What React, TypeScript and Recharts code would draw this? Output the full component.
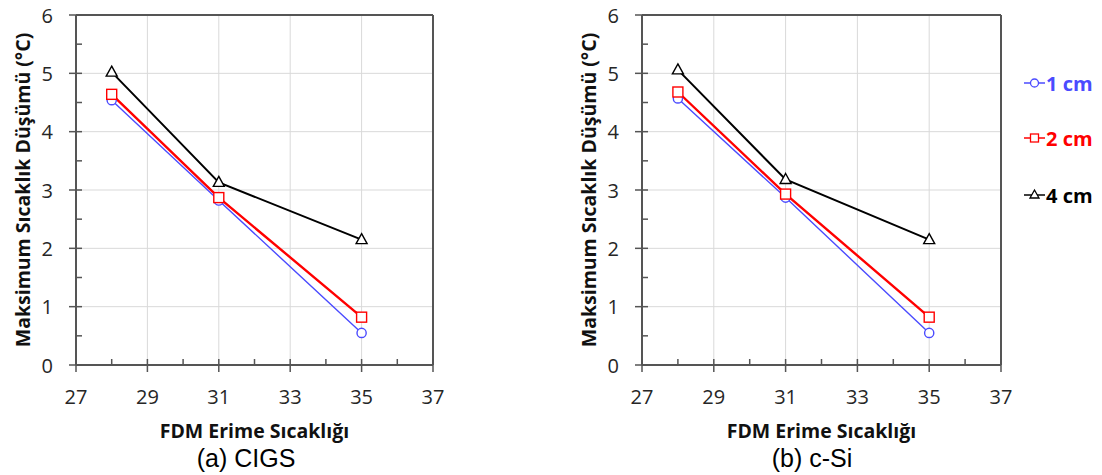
import React from "react";
import { LineChart, Line, XAxis, YAxis, CartesianGrid, ReferenceLine, Label } from "recharts";

// FDM melting temperature (x) and maximum temperature drop (°C) per thickness
const meltTemps = [28, 31, 35];
const cigs1cm = [4.54, 2.82, 0.55];
const cigs2cm = [4.64, 2.87, 0.82];
const cigs4cm = [5.02, 3.13, 2.15];
const csi1cm = [4.57, 2.87, 0.55];
const csi2cm = [4.68, 2.93, 0.82];
const csi4cm = [5.06, 3.18, 2.15];

const xTicks = [27, 28, 29, 30, 31, 32, 33, 34, 35, 36, 37];
const yTicks = [0, 0.5, 1, 1.5, 2, 2.5, 3, 3.5, 4, 4.5, 5, 5.5, 6];
const xGrid = [29, 31, 33, 35];
const yGrid = [1, 2, 3, 4, 5];

const seriesNames = ["1 cm", "2 cm", "4 cm"];
const seriesColors = ["#4b4bff", "#ff0000", "#000000"];

const yTitle = "Maksimum Sıcaklık Düşümü (°C)";
const xTitle = "FDM Erime Sıcaklığı";

const FONT = "'Open Sans', Lato, sans-serif";
const AXIS_COLOR = "#555555";
const TICK_SIZE = 7;
const TICK_MARGIN = 16;
const INNER_TICK = 6;

function buildRows(a: number[], b: number[], c: number[]) {
  return meltTemps.map((x, i) => ({ x, s1: a[i], s2: b[i], s4: c[i] }));
}

const CircleDot = (p: any) => (
  <circle key={`c-${p.index}`} cx={p.cx} cy={p.cy} r={4.6} fill="#fff" stroke={seriesColors[0]} strokeWidth={1.4} />
);
const SquareDot = (p: any) => (
  <rect key={`s-${p.index}`} x={p.cx - 5} y={p.cy - 5} width={10} height={10} fill="#fff" stroke={seriesColors[1]} strokeWidth={1.4} />
);
const TriangleDot = (p: any) => (
  <path
    key={`t-${p.index}`}
    d={`M${p.cx},${p.cy - 6} L${p.cx + 5.5},${p.cy + 4} L${p.cx - 5.5},${p.cy + 4} Z`}
    fill="#fff"
    stroke={seriesColors[2]}
    strokeWidth={1.4}
  />
);

const YTick = (p: any) => {
  const v = p.payload.value as number;
  const axisX = p.x + TICK_SIZE + TICK_MARGIN;
  const y = p.y;
  const major = Number.isInteger(v);
  return (
    <g>
      {major ? (
        <>
          <line x1={axisX - TICK_SIZE} x2={axisX + INNER_TICK} y1={y} y2={y} stroke={AXIS_COLOR} strokeWidth={1.5} />
          <text x={p.x} y={y} textAnchor="end" dominantBaseline="central" fontFamily={FONT} fontSize={20} fill="#262626">
            {v}
          </text>
        </>
      ) : (
        <line x1={axisX} x2={axisX + INNER_TICK} y1={y} y2={y} stroke={AXIS_COLOR} strokeWidth={1.5} />
      )}
    </g>
  );
};

const XTick = (p: any) => {
  const v = p.payload.value as number;
  const axisY = p.y - TICK_SIZE - 14;
  const x = p.x;
  const major = v % 2 === 1;
  return (
    <g>
      {major ? (
        <>
          <line x1={x} x2={x} y1={axisY - INNER_TICK} y2={axisY + TICK_SIZE} stroke={AXIS_COLOR} strokeWidth={1.5} />
          <text x={x} y={axisY + 31} textAnchor="middle" dominantBaseline="central" fontFamily={FONT} fontSize={20} fill="#262626">
            {v}
          </text>
        </>
      ) : (
        <line x1={x} x2={x} y1={axisY - INNER_TICK} y2={axisY} stroke={AXIS_COLOR} strokeWidth={1.5} />
      )}
    </g>
  );
};

function Panel({ rows, caption, left }: { rows: any[]; caption: string; left: number }) {
  const width = left === 0 ? 450 : 536;
  const rightMargin = left === 0 ? 17 : 101;
  return (
    <div style={{ position: "absolute", left, top: 0 }}>
      <LineChart width={width} height={475} data={rows} margin={{ top: 15, right: rightMargin, left: 0, bottom: 40 }}>
        <CartesianGrid horizontalValues={yGrid} verticalValues={xGrid} stroke="#d9d9d9" strokeWidth={1} />
        <XAxis
          type="number"
          dataKey="x"
          domain={[27, 37]}
          ticks={xTicks}
          interval={0}
          height={70}
          tickSize={TICK_SIZE}
          tickMargin={14}
          tickLine={false}
          axisLine={{ stroke: AXIS_COLOR, strokeWidth: 2 }}
          tick={<XTick />}
        >
          <Label
            content={(lp: any) => {
              const vb = lp.viewBox;
              return (
                <g>
                  <text
                    x={vb.x + vb.width / 2}
                    y={vb.y + 65}
                    textAnchor="middle"
                    dominantBaseline="central"
                    fontFamily={FONT}
                    fontWeight={700}
                    fontSize={19.5}
                    fill="#111"
                  >
                    {xTitle}
                  </text>
                  <text
                    x={vb.x + 170}
                    y={vb.y + 93}
                    textAnchor="middle"
                    dominantBaseline="central"
                    fontFamily="'Liberation Sans', Arial, sans-serif"
                    fontSize={25}
                    fill="#000"
                  >
                    {caption}
                  </text>
                </g>
              );
            }}
          />
        </XAxis>
        <YAxis
          type="number"
          domain={[0, 6]}
          ticks={yTicks}
          interval={0}
          width={76}
          tickSize={TICK_SIZE}
          tickMargin={TICK_MARGIN}
          tickLine={false}
          axisLine={{ stroke: AXIS_COLOR, strokeWidth: 2 }}
          tick={<YTick />}
        >
          <Label
            content={(lp: any) => {
              const vb = lp.viewBox;
              const cx = vb.x + 22;
              const cy = vb.y + vb.height / 2;
              return (
                <text
                  x={cx}
                  y={cy}
                  transform={`rotate(-90, ${cx}, ${cy})`}
                  textAnchor="middle"
                  dominantBaseline="central"
                  fontFamily={FONT}
                  fontWeight={700}
                  fontSize={19.5}
                  fill="#111"
                >
                  {yTitle}
                </text>
              );
            }}
          />
        </YAxis>
        <ReferenceLine y={6} stroke={AXIS_COLOR} strokeWidth={2} />
        <ReferenceLine x={37} stroke={AXIS_COLOR} strokeWidth={2} />
        <Line dataKey="s1" name={seriesNames[0]} stroke={seriesColors[0]} strokeWidth={1.4} dot={CircleDot} isAnimationActive={false} />
        <Line dataKey="s2" name={seriesNames[1]} stroke={seriesColors[1]} strokeWidth={2.4} dot={SquareDot} isAnimationActive={false} />
        <Line dataKey="s4" name={seriesNames[2]} stroke={seriesColors[2]} strokeWidth={2} dot={TriangleDot} isAnimationActive={false} />
      </LineChart>
    </div>
  );
}

function LegendMarker({ i }: { i: number }) {
  const c = seriesColors[i];
  return (
    <svg width={22} height={16} style={{ display: "block" }}>
      <line x1={0} x2={21} y1={8} y2={8} stroke={c} strokeWidth={1.5} />
      {i === 0 && <circle cx={10.5} cy={8} r={4} fill="#fff" stroke={c} strokeWidth={1.3} />}
      {i === 1 && <rect x={6.5} y={4} width={8} height={8} fill="#fff" stroke={c} strokeWidth={1.3} />}
      {i === 2 && <path d="M10.5,3 L15,11 L6,11 Z" fill="#fff" stroke={c} strokeWidth={1.3} />}
    </svg>
  );
}

const legendRowsY = [83, 138, 195];

export default function App() {
  return (
    <div style={{ position: "absolute", left: 0, top: 0, width: 1102, height: 475, background: "#fff" }}>
      <Panel rows={buildRows(cigs1cm, cigs2cm, cigs4cm)} caption="(a) CIGS" left={0} />
      <Panel rows={buildRows(csi1cm, csi2cm, csi4cm)} caption="(b) c-Si" left={566} />
      {seriesNames.map((name, i) => (
        <div
          key={name}
          style={{
            position: "absolute",
            left: 1024,
            top: legendRowsY[i] - 14,
            height: 28,
            display: "flex",
            alignItems: "center",
            fontFamily: FONT,
            fontWeight: 700,
            fontSize: 20,
            color: seriesColors[i],
            whiteSpace: "nowrap",
          }}
        >
          <LegendMarker i={i} />
          <span>{name}</span>
        </div>
      ))}
    </div>
  );
}
